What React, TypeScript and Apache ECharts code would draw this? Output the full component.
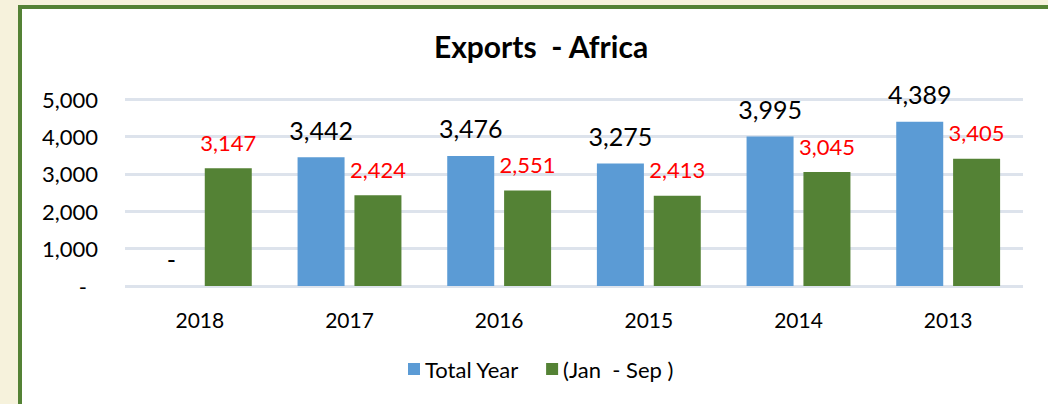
import React, { useEffect, useRef } from "react";
import * as echarts from "echarts";

const categories = ["2018", "2017", "2016", "2015", "2014", "2013"];
const totalYear = [0, 3442, 3476, 3275, 3995, 4389];
const janSep = [3147, 2424, 2551, 2413, 3045, 3405];
const yTicks = [0, 1000, 2000, 3000, 4000, 5000];

const FONT = "Lato";
const fmt = (v: number) => (v === 0 ? "-" : v.toLocaleString("en-US"));

export default function App() {
  const ref = useRef<HTMLDivElement>(null);
  useEffect(() => {
    document.body.style.margin = "0";
    const chart = echarts.init(ref.current!, undefined, { renderer: "svg" });
    chart.setOption({
      animation: false,
      backgroundColor: "#f6f2dc",
      graphic: [
        {
          type: "rect",
          shape: { x: 20, y: 7, width: 1040, height: 410 },
          style: { fill: "#ffffff", stroke: "#548235", lineWidth: 4 },
          z: -10,
        },
        {
          type: "text",
          x: 541,
          y: 46,
          style: {
            text: "Exports  - Africa",
            font: `bold 30px ${FONT}`,
            fill: "#000",
            textAlign: "center",
            textVerticalAlign: "middle",
          },
        },
      ],
      grid: { left: 125, right: 25, top: 99, bottom: 118 },
      legend: {
        left: 403,
        top: 353,
        icon: "rect",
        itemWidth: 12,
        itemHeight: 12,
        itemGap: 27,
        textStyle: { fontFamily: FONT, fontSize: 22, color: "#000" },
        data: ["Total Year", "(Jan  - Sep )"],
      },
      xAxis: {
        type: "category",
        data: categories,
        axisLine: { show: false },
        axisTick: { show: false },
        axisLabel: { fontFamily: FONT, fontSize: 21, color: "#000", margin: 23 },
      },
      yAxis: {
        type: "value",
        min: yTicks[0],
        max: yTicks[yTicks.length - 1],
        interval: 1000,
        axisLine: { show: false },
        axisTick: { show: false },
        splitLine: { lineStyle: { color: "#dde3ec", width: 3 } },
        axisLabel: {
          fontFamily: FONT,
          fontSize: 22,
          color: "#000",
          margin: 27,
          formatter: (v: number) => (v === 0 ? "{z|-}" : v.toLocaleString("en-US")),
          rich: { z: { fontFamily: FONT, fontSize: 22, color: "#000", padding: [0, 11, 0, 0] } },
        },
      },
      series: [
        {
          name: "Total Year",
          type: "bar",
          data: totalYear,
          barWidth: 47,
          barGap: "21%",
          itemStyle: { color: "#5b9bd5" },
          label: {
            show: true,
            position: "top",
            distance: 15,
            fontFamily: FONT,
            fontSize: 25,
            color: "#000",
            formatter: (p: any) => fmt(p.value),
          },
        },
        {
          name: "(Jan  - Sep )",
          type: "bar",
          data: janSep,
          barWidth: 47,
          itemStyle: { color: "#548235" },
          label: {
            show: true,
            position: "top",
            distance: 15,
            fontFamily: FONT,
            fontSize: 22,
            color: "#ff0000",
            formatter: (p: any) => fmt(p.value),
          },
        },
      ],
    });
    return () => chart.dispose();
  }, []);
  return (
    <div
      ref={ref}
      style={{ position: "fixed", left: 0, top: 0, width: 1048, height: 404 }}
    />
  );
}
